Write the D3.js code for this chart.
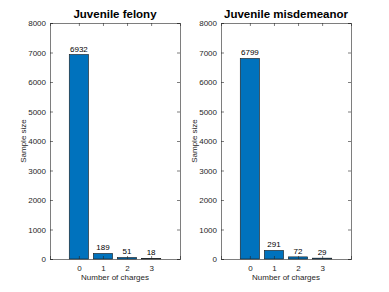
<!DOCTYPE html>
<html><head><meta charset="utf-8">
<script src="https://cdn.jsdelivr.net/npm/d3@7"></script>
<style>body{margin:0;background:#fff}svg{display:block;font-family:"Liberation Sans",Arial,sans-serif}</style>
</head><body><svg id="c" width="389" height="292"></svg>
<script>
const categories = [0, 1, 2, 3];
const felonyValues = [6932, 189, 51, 18];
const misdemeanorValues = [6799, 291, 72, 29];
const titles = ["Juvenile felony", "Juvenile misdemeanor"];
const yTicks = [0, 1000, 2000, 3000, 4000, 5000, 6000, 7000, 8000];
const xLabel = "Number of charges";
const yLabel = "Sample size";

(function () {
const svg = d3.select("#c");
const panels = [
  {left: 50, values: felonyValues, title: titles[0]},
  {left: 221, values: misdemeanorValues, title: titles[1]}
];
const W = 130, plotTop = 23, plotBottom = 259;
const axisColor = "#262626";

panels.forEach(p => {
  const x = d3.scaleLinear().domain([-1.2, 4.2]).range([p.left, p.left + W]);
  const y = d3.scaleLinear().domain([0, 8000]).range([plotBottom, plotTop]);
  const g = svg.append("g");
  const bw = x(0.8) - x(0);
  g.selectAll("rect").data(p.values).enter().append("rect")
    .attr("x", (d, i) => x(categories[i]) - bw / 2)
    .attr("width", bw)
    .attr("y", d => y(d))
    .attr("height", d => y(0) - y(d))
    .attr("fill", "#0072BD")
    .attr("stroke", "#1a1a1a").attr("stroke-width", 0.6);
  g.selectAll("text.v").data(p.values).enter().append("text")
    .attr("class", "v")
    .attr("x", (d, i) => x(categories[i]))
    .attr("y", d => y(d) - 3)
    .attr("text-anchor", "middle").attr("font-size", 8).attr("fill", "#000")
    .text(d => d);
  const yAxG = g.append("g").attr("transform", `translate(${p.left},0)`).call(d3.axisLeft(y).tickValues(yTicks).tickSize(-3).tickPadding(4).tickFormat(d3.format("d")));
  const yAxR = g.append("g").attr("transform", `translate(${p.left + W},0)`).call(d3.axisRight(y).tickValues(yTicks).tickSize(-3).tickFormat(""));
  const xAx = g.append("g").attr("transform", `translate(0,${plotBottom})`).call(d3.axisBottom(x).tickValues(categories).tickSize(-3).tickPadding(6).tickFormat(d3.format("d")));
  const xAxT = g.append("g").attr("transform", `translate(0,${plotTop})`).call(d3.axisTop(x).tickValues(categories).tickSize(-3).tickFormat(""));
  [yAxG, yAxR, xAx, xAxT].forEach(a => {
    a.select(".domain").attr("stroke", axisColor).attr("stroke-width", 0.6);
    a.selectAll(".tick line").attr("stroke", axisColor).attr("stroke-width", 0.6);
    a.selectAll("text").attr("font-size", 8).attr("fill", axisColor).attr("font-family", "Liberation Sans, Arial, sans-serif");
  });
  g.append("text").attr("x", p.left + W / 2).attr("y", 18)
    .attr("text-anchor", "middle").attr("font-size", 11.5).attr("font-weight", "bold").attr("fill", "#000")
    .text(p.title);
  g.append("text").attr("x", p.left + W / 2).attr("y", 280)
    .attr("text-anchor", "middle").attr("font-size", 8).attr("fill", axisColor)
    .text(xLabel);
  g.append("text").attr("transform", `translate(${p.left - 24},${(plotTop + plotBottom) / 2}) rotate(-90)`)
    .attr("text-anchor", "middle").attr("font-size", 8).attr("fill", axisColor)
    .text(yLabel);
});
})();
</script></body></html>
